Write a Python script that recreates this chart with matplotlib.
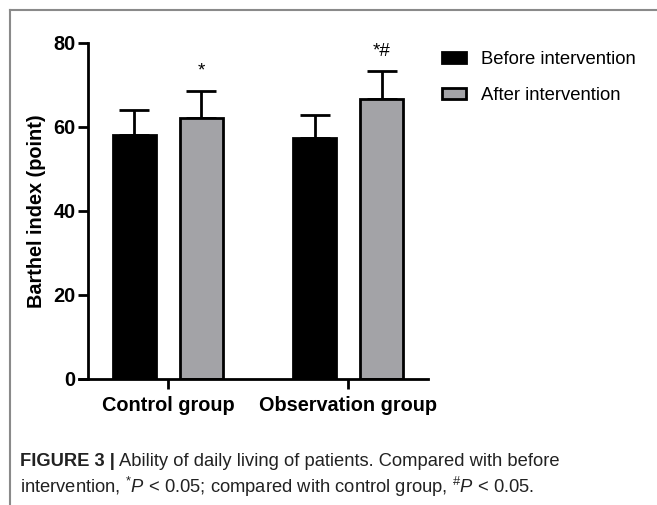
import matplotlib
matplotlib.use("Agg")
import matplotlib.pyplot as plt
import numpy as np
from matplotlib.lines import Line2D
from matplotlib.patches import Patch

# --- data ---
groups = ["Control group", "Observation group"]
series = ["Before intervention", "After intervention"]
before_mean = [58.1, 57.3]
before_sd = [5.9, 5.6]
after_mean = [62.1, 66.7]
after_sd = [6.4, 6.6]
marks = ["*", "*#"]

colors = ["black", "#a3a3a7"]

plt.rcParams["font.family"] = ["Liberation Sans", "DejaVu Sans"]

fig = plt.figure(figsize=(6.57, 5.05), dpi=100)
ax = fig.add_axes([79 / 657, 1 - 379 / 505, (428 - 79) / 657, (379 - 42.7) / 505])

x = np.arange(len(groups))
off = 0.186
w = 0.235
for vals, sds, dx, col in [(before_mean, before_sd, -off, colors[0]),
                           (after_mean, after_sd, off, colors[1])]:
    ax.bar(x + dx, vals, width=w, color=col, edgecolor="black", linewidth=2, zorder=2)
    ax.errorbar(x + dx, vals, yerr=[np.zeros(len(vals)), sds], fmt="none",
                ecolor="black", elinewidth=2, capsize=11, capthick=2, zorder=1)

# significance marks
for xi, m, top in zip(x, marks, np.array(after_mean) + np.array(after_sd)):
    ax.text(xi + off, top + 4.7, m, ha="center", va="center", fontsize=13.5)

ax.set_xlim(-0.494, 1.444)
ax.set_ylim(0, 80)
ax.spines["left"].set_position(("data", -0.444))
ax.spines["left"].set_bounds(0, 80)
for s in ["top", "right"]:
    ax.spines[s].set_visible(False)
for s in ["left", "bottom"]:
    ax.spines[s].set_linewidth(2)
ax.set_yticks([0, 20, 40, 60, 80])
ax.set_xticks(x)
ax.set_xticklabels(groups, fontsize=14.3, fontweight="bold")
ax.tick_params(axis="both", width=2, length=7, labelsize=14.3)
for lab in ax.get_yticklabels():
    lab.set_fontweight("bold")
ax.tick_params(axis="x", pad=5)
ax.tick_params(axis="y", pad=2)
ax.set_ylabel("Barthel index (point)", fontsize=14.3, fontweight="bold", labelpad=5)

handles = [Patch(facecolor=c, edgecolor="black", linewidth=2) for c in colors]
ax.legend(handles, series, loc="upper left", bbox_to_anchor=(425 / 657, 1 - 34 / 505),
          bbox_transform=fig.transFigure, frameon=False, fontsize=13.3,
          handlelength=1.3, handleheight=0.55, handletextpad=0.85, labelspacing=1.05)

# figure frame (top and left)
fig.add_artist(Line2D([10 / 657, 10 / 657], [0, 1 - 10 / 505], color="#8a8a8a", lw=1.5,
                      transform=fig.transFigure))
fig.add_artist(Line2D([10 / 657, 1], [1 - 10 / 505, 1 - 10 / 505], color="#8a8a8a", lw=1.5,
                      transform=fig.transFigure))

# caption
cap_font = ["Liberation Sans", "DejaVu Sans"]
plt.rcParams["mathtext.fontset"] = "custom"
plt.rcParams["mathtext.rm"] = "Liberation Sans"
plt.rcParams["mathtext.it"] = "Liberation Sans:italic"
t1 = fig.text(20 / 657, 1 - 461 / 505, "FIGURE 3 |", family=cap_font, fontweight="bold",
              fontsize=13.2, va="center", color="#222222")
fig.canvas.draw()
bb = t1.get_window_extent()
fig.text(bb.x1 / 657 + 4 / 657, 1 - 461 / 505,
         "Ability of daily living of patients. Compared with before",
         family=cap_font, fontsize=13.2, va="center", color="#222222")
fig.text(20 / 657, 1 - 487 / 505,
         r"intervention, $^{*}\mathit{P}$ < 0.05; compared with control group, $^{\#}\mathit{P}$ < 0.05.",
         family=cap_font, fontsize=13.2, va="center", color="#222222")

fig.savefig("out.png", dpi=100)
